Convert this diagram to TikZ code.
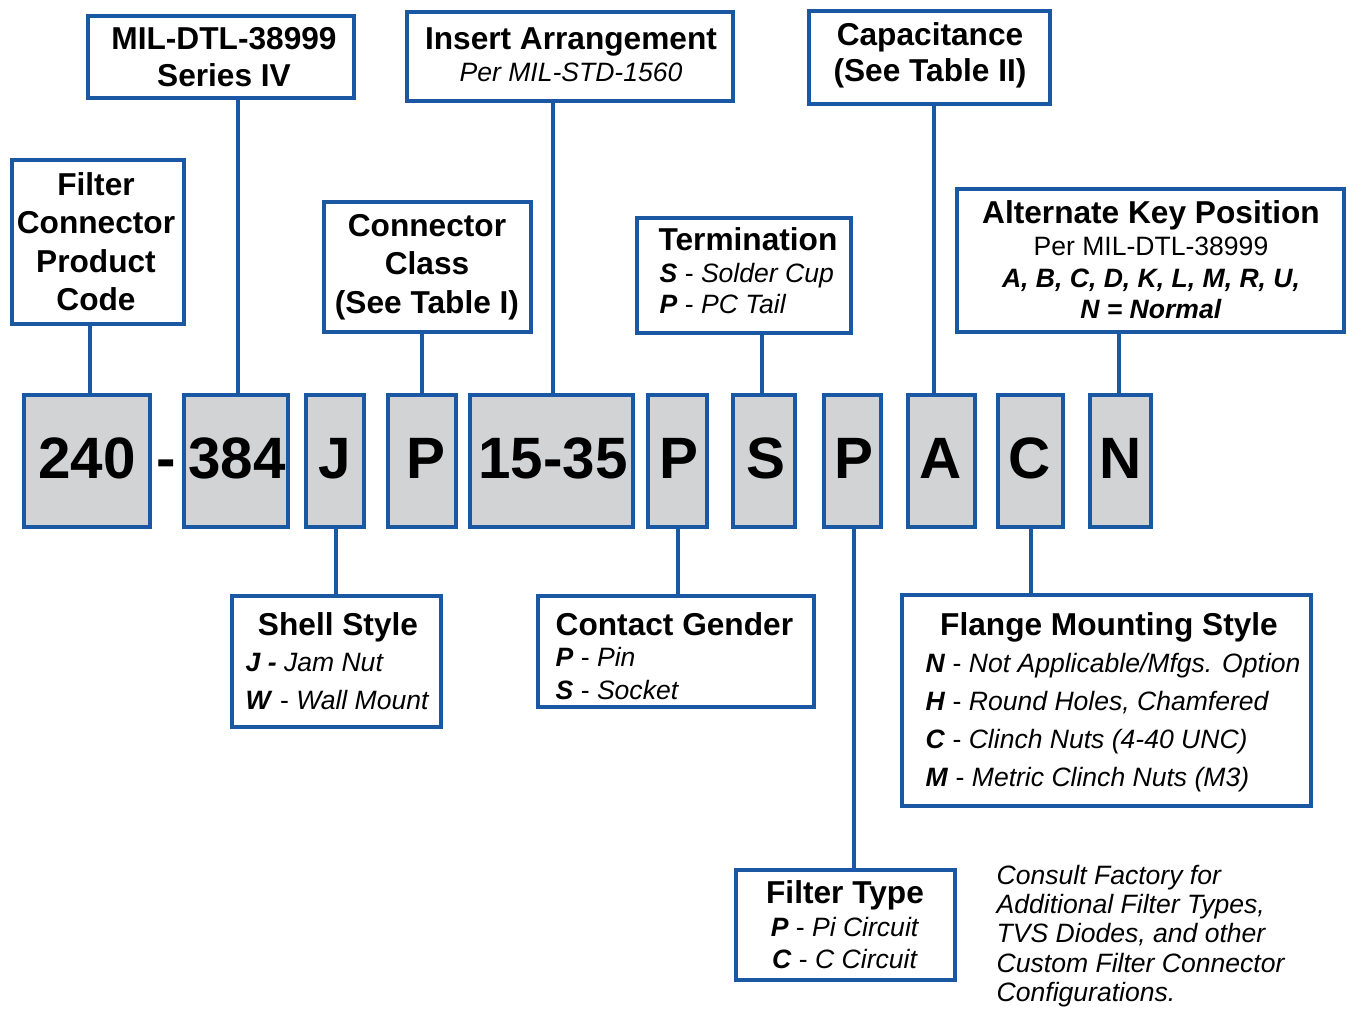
\documentclass[tikz,border=0pt]{standalone}
\usepackage{fontspec}
\setmainfont{Liberation Sans}
\usetikzlibrary{fit}
\definecolor{bblue}{RGB}{26,88,164}
\definecolor{cgray}{RGB}{209,211,213}
\tikzset{
  box/.style={draw=bblue, line width=1.4pt, fill=white, inner sep=0pt},
  codebox/.style={draw=bblue, line width=1.4pt, fill=cgray, inner sep=0pt},
  conn/.style={draw=bblue, line width=1.4pt},
  ttl/.style={font=\fontsize{9}{10}\selectfont\bfseries, anchor=base, inner sep=0pt},
  itm/.style={font=\fontsize{7.55}{9}\selectfont, anchor=base, inner sep=0pt},
  itmw/.style={font=\fontsize{7.55}{9}\selectfont, anchor=base west, inner sep=0pt},
  cd/.style={font=\fontsize{16.6}{18}\selectfont\bfseries, anchor=base, inner sep=0pt},
}
\newcommand{\bi}[1]{\textbf{\textit{#1}}}
\begin{document}
\begin{tikzpicture}[x=0.01cm, y=-0.01cm]
\useasboundingbox (0,0) rectangle (1348,1015);
% top boxes
\node[box, fit={(12,160) (184,324)}] (fcpc) {};
\node[box, fit={(88,16) (354,98)}] (mil) {};
\node[box, fit={(407,12) (733,101)}] (ins) {};
\node[box, fit={(324,202) (531,332)}] (cls) {};
\node[box, fit={(637,218) (851,333)}] (term) {};
\node[box, fit={(809,11) (1050,104)}] (cap) {};
\node[box, fit={(957,189) (1344,332)}] (akp) {};
% code boxes
\node[codebox, fit={(24,395) (150,527)}] (c240) {};
\node[codebox, fit={(184,395) (288,527)}] (c384) {};
\node[codebox, fit={(306,395) (364,527)}] (cJ) {};
\node[codebox, fit={(388,395) (456,527)}] (cP1) {};
\node[codebox, fit={(470,395) (633,527)}] (c1535) {};
\node[codebox, fit={(648,395) (707,527)}] (cP2) {};
\node[codebox, fit={(733,395) (795,527)}] (cS) {};
\node[codebox, fit={(824,395) (881,527)}] (cP3) {};
\node[codebox, fit={(908,395) (975,527)}] (cA) {};
\node[codebox, fit={(998,395) (1063,527)}] (cC) {};
\node[codebox, fit={(1090,395) (1151,527)}] (cN) {};
% bottom boxes
\node[box, fit={(232,596) (441,727)}] (shell) {};
\node[box, fit={(538,596) (814,707)}] (gender) {};
\node[box, fit={(902,595) (1311,806)}] (flange) {};
\node[box, fit={(736,870) (955,980)}] (ftype) {};
% connectors
\draw[conn] (fcpc.south -| 90,0) -- (c240.north -| 90,0);
\draw[conn] (mil.south -| 238,0) -- (c384.north -| 238,0);
\draw[conn] (cls.south -| 422,0) -- (cP1.north -| 422,0);
\draw[conn] (ins.south -| 553,0) -- (c1535.north -| 553,0);
\draw[conn] (term.south -| 762,0) -- (cS.north -| 762,0);
\draw[conn] (cap.south -| 934,0) -- (cA.north -| 934,0);
\draw[conn] (akp.south -| 1119,0) -- (cN.north -| 1119,0);
\draw[conn] (cJ.south -| 336,0) -- (shell.north -| 336,0);
\draw[conn] (cP2.south -| 678,0) -- (gender.north -| 678,0);
\draw[conn] (cP3.south -| 854,0) -- (ftype.north -| 854,0);
\draw[conn] (cC.south -| 1031,0) -- (flange.north -| 1031,0);
% code texts
\node[cd] (t240) at (87,478) {240};
\node[cd] (tdash) at (166,478) {-};
\node[cd] (t384) at (237,478) {384};
\node[cd] (tJ) at (335,478) {J};
\node[cd] (tP1) at (426,478) {P};
\node[cd] (t1535) at (553,478) {15-35};
\node[cd] (tP2) at (679,478) {P};
\node[cd] (tS) at (766,478) {S};
\node[cd] (tP3) at (854,478) {P};
\node[cd] (tA) at (941,478) {A};
\node[cd] (tC) at (1030,478) {C};
\node[cd] (tN) at (1121,478) {N};
% top box texts
\node[ttl] (fcpc1) at (96,195) {Filter};
\node[ttl] (fcpc2) at (96,233) {Connector};
\node[ttl] (fcpc3) at (96,272) {Product};
\node[ttl] (fcpc4) at (96,310) {Code};
\node[ttl] (mil1) at (224,49) {MIL-DTL-38999};
\node[ttl] (mil2) at (224,87) {Series IV};
\node[ttl] (ins1) at (571,50) {Insert Arrangement};
\node[itm] (ins2) at (571,81) {\textit{Per MIL-STD-1560}};
\node[ttl] (cls1) at (427,236) {Connector};
\node[ttl] (cls2) at (427,274) {Class};
\node[ttl] (cls3) at (427,313) {(See Table I)};
\node[ttl] (term1) at (748,250) {Termination};
\node[itmw] (term2) at (659,282) {\bi{S} - \textit{Solder Cup}};
\node[itmw] (term3) at (659,313) {\bi{P} - \textit{PC Tail}};
\node[ttl] (cap1) at (930,45) {Capacitance};
\node[ttl] (cap2) at (930,81) {(See Table II)};
\node[ttl] (akp1) at (1151,223) {Alternate Key Position};
\node[itm] (akp2) at (1151,255) {Per MIL-DTL-38999};
\node[itm] (akp3) at (1151,287) {\bi{A, B, C, D, K, L, M, R, U,}};
\node[itm] (akp4) at (1151,318) {\bi{N = Normal}};
% bottom box texts
\node[ttl] (shell1) at (338,635) {Shell Style};
\node[itmw] (shell2) at (245,671) {\bi{J -} \textit{Jam Nut}};
\node[itmw] (shell3) at (245,709) {\bi{W} - \textit{Wall Mount}};
\node[ttl, anchor=base west] (gender1) at (555,635) {Contact Gender};
\node[itmw] (gender2) at (555,666) {\bi{P} - \textit{Pin}};
\node[itmw] (gender3) at (555,699) {\bi{S} - \textit{Socket}};
\node[ttl] (flange1) at (1109,635) {Flange Mounting Style};
\node[itmw] (flange2) at (925,672) {\bi{N} - \textit{Not Applicable/Mfgs. Option}};
\node[itmw] (flange3) at (925,710) {\bi{H} - \textit{Round Holes, Chamfered}};
\node[itmw] (flange4) at (925,748) {\bi{C} - \textit{Clinch Nuts (4-40 UNC)}};
\node[itmw] (flange5) at (925,786) {\bi{M} - \textit{Metric Clinch Nuts (M3)}};
\node[ttl] (ftype1) at (845,903) {Filter Type};
\node[itm] (ftype2) at (845,936) {\bi{P} - \textit{Pi Circuit}};
\node[itm] (ftype3) at (845,968) {\bi{C} - \textit{C Circuit}};
% note
\node[itmw] (note1) at (996,884) {\textit{Consult Factory for}};
\node[itmw] (note2) at (996,913) {\textit{Additional Filter Types,}};
\node[itmw] (note3) at (996,942) {\textit{TVS Diodes, and other}};
\node[itmw] (note4) at (996,972) {\textit{Custom Filter Connector}};
\node[itmw] (note5) at (996,1001) {\textit{Configurations.}};
\end{tikzpicture}
\end{document}
